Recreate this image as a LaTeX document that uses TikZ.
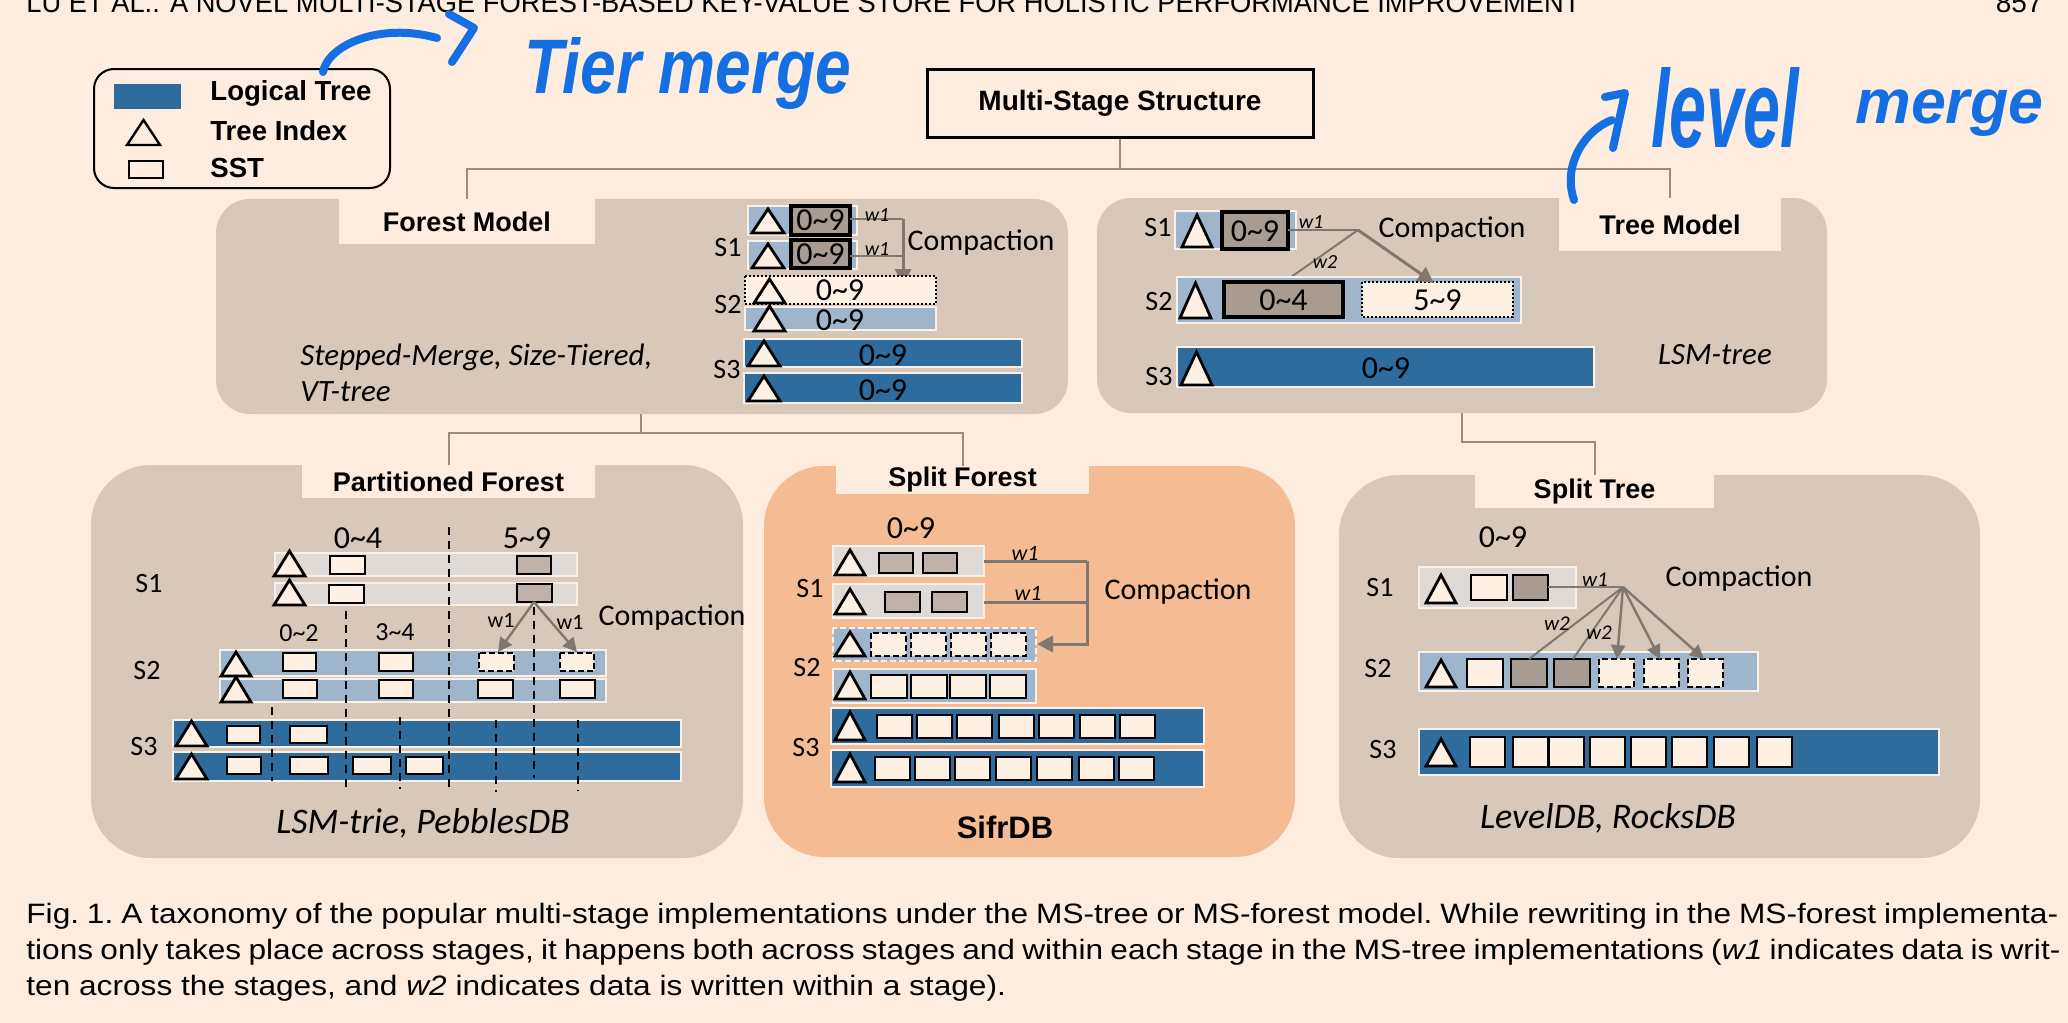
\documentclass[tikz,border=0pt]{standalone}
\usepackage{fontspec}
\usepackage{graphicx}
\setmainfont{Carlito}
\newfontfamily\arialf{Liberation Sans}
\newfontfamily\capf{Liberation Sans}[FakeStretch=1.13]
\usetikzlibrary{arrows.meta}
\definecolor{bg}{RGB}{254,237,223}
\definecolor{panelc}{RGB}{216,200,186}
\definecolor{salmon}{RGB}{245,188,148}
\definecolor{dblue}{RGB}{46,108,158}
\definecolor{lblue}{RGB}{158,181,204}
\definecolor{lgrey}{RGB}{224,218,214}
\definecolor{sstc}{RGB}{255,240,228}
\definecolor{dsstc}{RGB}{168,156,146}
\definecolor{msstc}{RGB}{192,178,168}
\definecolor{edgec}{RGB}{250,240,232}
\definecolor{connc}{RGB}{150,140,132}
\definecolor{arrc}{RGB}{128,120,112}
\definecolor{inkc}{RGB}{20,112,226}
\newcommand\tri[4]{\draw[tris] (#1,#3) -- ({#1+#4},#3) -- ({#1+#4/2},#2) -- cycle;}
\begin{document}
\begin{tikzpicture}[x=0.5pt,y=-0.5pt,
  panel/.style={fill=panelc, rounded corners=17pt},
  bpanel/.style={fill=panelc, rounded corners=30pt},
  tab/.style={fill=bg, inner sep=0, font=\arialf\bfseries\fontsize{13.5}{15}\selectfont},
  bar/.style={draw=edgec, line width=1pt},
  lbb/.style={bar, fill=lblue},
  dbb/.style={bar, fill=dblue},
  lgb/.style={bar, fill=lgrey},
  sst/.style={draw=black, line width=1.4pt, fill=sstc},
  dsst/.style={sst, fill=dsstc},
  msst/.style={sst, fill=msstc},
  nsst/.style={sst, dash pattern=on 3pt off 1.5pt},
  dotb/.style={draw=black, line width=0.8pt, dash pattern=on 1pt off 1pt, fill=sstc},
  tris/.style={draw=black, line width=1.4pt, fill=sstc, line join=miter},
  slab/.style={font=\fontsize{14}{16}\selectfont},
  rng/.style={font=\fontsize{16}{18}\selectfont},
  rngs/.style={font=\fontsize{13}{15}\selectfont},
  cmp/.style={font=\fontsize{15}{17}\selectfont},
  wl/.style={font=\itshape\fontsize{10}{12}\selectfont, inner sep=0},
  wlu/.style={font=\fontsize{11}{13}\selectfont, inner sep=0},
  dbn/.style={font=\itshape\fontsize{18}{20}\selectfont},
  conn/.style={draw=connc, line width=1pt},
  tline/.style={draw=arrc, line width=1pt},
  arr/.style={draw=arrc, line width=1.5pt, -{Triangle[length=8pt,width=8pt]}},
  arrs/.style={draw=arrc, line width=1.2pt, -{Triangle[length=7pt,width=7pt]}},
  dl/.style={draw=black, line width=0.7pt, dash pattern=on 4pt off 3pt},
  ink/.style={draw=inkc, line width=4pt, line cap=round, line join=round},
  capn/.style={anchor=base west, inner sep=0, font=\capf\frenchspacing\fontsize{14}{16}\selectfont},
  leg/.style={anchor=west, inner sep=0, font=\arialf\bfseries\fontsize{13.8}{16}\selectfont}]
\useasboundingbox (0,0) rectangle (2068,1023);
\fill[bg] (0,0) rectangle (2068,1023);

% header
\node[anchor=base west, inner sep=0] (hdr) at (26,12) {\resizebox{777pt}{10pt}{\arialf LU ET AL.: A NOVEL MULTI-STAGE FOREST-BASED KEY-VALUE STORE FOR HOLISTIC PERFORMANCE IMPROVEMENT}};
\node[anchor=base east, inner sep=0, font=\arialf\fontsize{14}{16}\selectfont] (pg) at (2043,12) {857};

% legend
\draw[line width=1pt, rounded corners=10pt] (94,69) rectangle (390,188);
\fill[dblue] (114,84) rectangle (181,109);
\node[leg] (l1) at (210,93) {Logical Tree};
\draw[line width=1.2pt] (127,145) -- (160,145) -- (143.5,120) -- cycle;
\node[leg] (l2) at (210,131) {Tree Index};
\draw[line width=1.2pt] (129,161) rectangle (163,178);
\node[leg] (l3) at (210,168) {SST};

% top box
\node[draw, line width=1.5pt, minimum width=193pt, minimum height=34pt, inner sep=0, font=\arialf\bfseries\fontsize{14}{16}\selectfont] (ms) at (1120,103) {Multi-Stage Structure};

% panels
\fill[panel] (216,199) rectangle (1068,414);
\fill[panel] (1097,198) rectangle (1827,413);
\fill[bpanel] (91,465) rectangle (743,858);
\fill[bpanel, fill=salmon] (764,466) rectangle (1295,857);
\fill[bpanel] (1339,475) rectangle (1980,858);
\node[tab, minimum width=128pt, minimum height=22.5pt] (tabFM) at (467,221.5) {Forest Model};
\node[tab, minimum width=111pt, minimum height=26.5pt] (tabTM) at (1670,224.5) {Tree Model};
\node[tab, minimum width=146.5pt, minimum height=16.5pt] (tabPF) at (448.5,481.5) {Partitioned Forest};
\node[tab, minimum width=126.5pt, minimum height=14pt] (tabSF) at (962.5,480) {Split Forest};
\node[tab, minimum width=119.5pt, minimum height=16.5pt] (tabST) at (1594.5,491.5) {Split Tree};

% hierarchy connectors
\draw[conn] (ms.south) -- ++(0,30) -| (tabFM.north);
\draw[conn] (ms.south) -- ++(0,30) -| (tabTM.north);
\coordinate (fmBot) at (641,414);
\draw[conn] (fmBot) -- ++(0,19) -| (tabPF.north);
\draw[conn] (fmBot) -- ++(0,19) -| (tabSF.north);
\coordinate (tmBot) at (1462,413);
\draw[conn] (tmBot) -- ++(0,29) -| (tabST.north);

% ===== Forest Model =====
\draw[lbb] (748,206) rectangle (857,235);
\tri{752}{209}{233}{32}
\draw[dsst, line width=2pt] (791,206) rectangle (850,235);
\node[rng] (fa1) at (820.5,220.5) {0\textasciitilde9};
\draw[lbb] (748,241) rectangle (857,269);
\tri{752}{244}{268}{32}
\draw[dsst, line width=2pt] (791,240) rectangle (850,268);
\node[rng] (fa2) at (820.5,254) {0\textasciitilde9};
\draw[tline] (850,219) -- (903,219);
\draw[tline] (850,256) -- (903,256);
\draw[arr] (903,219) -- (903,285);
\node[wl] (fw1) at (877,215) {w1};
\node[wl] (fw2) at (877,249) {w1};
\node[cmp] (fc) at (981,243) {Compaction};
\node[slab] (fs1) at (728,248) {S1};
\draw[dotb] (745,276) rectangle (936,304);
\tri{754}{279}{303}{31}
\node[rng] (fa3) at (840,290) {0\textasciitilde9};
\draw[lbb] (745,307) rectangle (936,330);
\tri{754}{306}{331}{31}
\node[rng] (fa4) at (840,320) {0\textasciitilde9};
\node[slab] (fs2) at (728,305) {S2};
\draw[dbb] (744,339) rectangle (1022,367);
\tri{748}{341}{366}{32}
\node[rng] (fa5) at (883,355) {0\textasciitilde9};
\draw[dbb] (744,373) rectangle (1022,403);
\tri{748}{376}{401}{32}
\node[rng] (fa6) at (883,390) {0\textasciitilde9};
\node[slab] (fs3) at (727,370) {S3};
\node[anchor=west, inner sep=0, font=\itshape\fontsize{15.5}{18}\selectfont] (fn1) at (300,357) {Stepped-Merge, Size-Tiered,};
\node[anchor=west, inner sep=0, font=\itshape\fontsize{15.5}{18}\selectfont] (fn2) at (300,392) {VT-tree};

% ===== Tree Model =====
\draw[lbb] (1175,211) rectangle (1296,249);
\tri{1182}{215}{247}{30}
\draw[dsst, line width=2pt] (1222,212) rectangle (1288,249);
\node[rng] (ta1) at (1255,231) {0\textasciitilde9};
\node[slab] (ts1) at (1158,228) {S1};
\coordinate (tmf) at (1358,230);
\draw[tline] (1288,230) -- (tmf);
\draw[tline] (tmf) -- (1284,282);
\draw[lbb] (1177,277) rectangle (1521,323);
\tri{1180}{283}{318}{31}
\draw[dsst, line width=2pt] (1224,282) rectangle (1343,317);
\node[rng] (ta2) at (1283.5,300) {0\textasciitilde4};
\draw[dotb] (1362,282) rectangle (1513,317);
\node[rng] (ta3) at (1437.5,300) {5\textasciitilde9};
\draw[arr] (tmf) -- (1434,283);
\node[wl] (tw1) at (1311,222) {w1};
\node[wl] (tw2) at (1325,262) {w2};
\node[cmp] (tc) at (1452,230) {Compaction};
\node[slab] (ts2) at (1159,302) {S2};
\draw[dbb] (1177,347) rectangle (1594,387);
\tri{1181}{352}{385}{31}
\node[rng] (ta4) at (1386,368) {0\textasciitilde9};
\node[slab] (ts3) at (1159,377) {S3};
\node[font=\itshape\fontsize{15.5}{18}\selectfont] (tn) at (1715,355) {LSM-tree};

% ===== Partitioned Forest =====
\node[rng] (pr1) at (358,538) {0\textasciitilde4};
\node[rng] (pr2) at (527,538) {5\textasciitilde9};
\draw[lgb] (275,553) rectangle (577,576);
\draw[lgb] (275,583) rectangle (577,605);
\draw[lbb] (220,650) rectangle (606,676);
\draw[lbb] (220,679) rectangle (606,702);
\draw[dbb] (173,720) rectangle (681,747);
\draw[dbb] (173,752) rectangle (681,781);
\draw[dl] (449,527) -- (449,792);
\draw[dl] (346,611) -- (346,791);
\draw[dl] (534,607) -- (534,778);
\draw[dl] (272,707) -- (272,781);
\draw[dl] (400,717) -- (400,789);
\draw[dl] (496,720) -- (496,792);
\draw[dl] (578,720) -- (578,791);
\tri{274}{551}{576}{31}
\draw[sst] (330,556) rectangle (365,574);
\draw[msst] (517,556) rectangle (551,574);
\tri{274}{580}{605}{31}
\draw[sst] (329,585) rectangle (364,603);
\draw[msst] (517,584) rectangle (552,602);
\node[slab] (ps1) at (149,584) {S1};
\node[rngs] (pr3) at (299,633) {0\textasciitilde2};
\node[rngs] (pr4) at (395,632) {3\textasciitilde4};
\coordinate (pfs) at (534,602);
\draw[arrs] (pfs) -- (498,652);
\draw[arrs] (pfs) -- (577,652);
\node[wlu] (pw1) at (501,620) {w1};
\node[wlu] (pw2) at (570,622) {w1};
\node[cmp] (pc) at (672,618) {Compaction};
\tri{221}{652}{676}{30}
\draw[sst] (283,653) rectangle (316,671);
\draw[sst] (379,653) rectangle (413,671);
\draw[nsst] (479,653) rectangle (514,671);
\draw[nsst] (560,653) rectangle (594,671);
\tri{221}{677}{702}{30}
\draw[sst] (283,680) rectangle (317,698);
\draw[sst] (379,680) rectangle (413,698);
\draw[sst] (478,680) rectangle (513,698);
\draw[sst] (560,680) rectangle (595,698);
\node[slab] (ps2) at (147,671) {S2};
\tri{176}{721}{746}{31}
\draw[sst] (227,726) rectangle (260,743);
\draw[sst] (290,726) rectangle (327,743);
\tri{176}{754}{779}{31}
\draw[sst] (227,757) rectangle (261,774);
\draw[sst] (290,757) rectangle (328,774);
\draw[sst] (353,757) rectangle (391,774);
\draw[sst] (406,757) rectangle (443,774);
\node[slab] (ps3) at (144,747) {S3};
\node[dbn] (pn) at (423,823) {LSM-trie, PebblesDB};

% ===== Split Forest =====
\node[rng] (sr1) at (911,528) {0\textasciitilde9};
\draw[lgb] (833,546) rectangle (984,576);
\tri{835}{550}{575}{30}
\draw[msst] (879,553) rectangle (913,573);
\draw[msst] (923,553) rectangle (957,573);
\draw[lgb] (833,584) rectangle (984,618);
\tri{835}{589}{614}{30}
\draw[msst] (885,592) rectangle (920,612);
\draw[msst] (932,592) rectangle (967,612);
\node[slab] (ss1) at (810,589) {S1};
\draw[draw=arrc, line width=1.5pt] (984,561) -- (1087,561);
\draw[draw=arrc, line width=1.5pt] (984,602) -- (1087,602);
\draw[arr] (1087,561) -- (1087,644) -- (1037,644);
\node[font=\itshape\fontsize{11}{13}\selectfont, inner sep=0] (sw1) at (1025,553) {w1};
\node[font=\itshape\fontsize{11}{13}\selectfont, inner sep=0] (sw2) at (1028,593) {w1};
\node[cmp] (sc) at (1178,592) {Compaction};
\draw[bar, fill=lblue, dash pattern=on 3pt off 1.5pt] (833,628) rectangle (1036,661);
\tri{835}{632}{656}{30}
\foreach \a in {871,911,951,991} \draw[nsst] (\a,633) rectangle ++(35,23);
\draw[lbb] (833,669) rectangle (1036,703);
\tri{835}{672}{699}{30}
\foreach \a in {871,911,950,990} \draw[sst] (\a,675) rectangle ++(36,23);
\node[slab] (ss2) at (807,668) {S2};
\draw[dbb] (831,708) rectangle (1204,744);
\tri{835}{712}{740}{30}
\foreach \a in {877,917,957,999,1039,1080,1120} \draw[sst] (\a,715) rectangle ++(35,23);
\draw[dbb] (831,750) rectangle (1204,787);
\tri{835}{754}{782}{30}
\foreach \a in {875,915,955,996,1037,1079,1119} \draw[sst] (\a,757) rectangle ++(35,23);
\node[slab] (ss3) at (806,748) {S3};
\node[font=\arialf\bfseries\fontsize{15.5}{18}\selectfont] (sn) at (1005,827) {SifrDB};

% ===== Split Tree =====
\node[rng] (qr1) at (1503,537) {0\textasciitilde9};
\draw[lgb] (1419,567) rectangle (1576,608);
\tri{1426}{575}{603}{30}
\draw[sst] (1471,575) rectangle (1507,600);
\draw[dsst] (1513,575) rectangle (1548,600);
\node[slab] (qs1) at (1380,588) {S1};
\draw[lbb] (1419,652) rectangle (1758,691);
\tri{1426}{660}{687}{30}
\draw[sst] (1467,659) rectangle (1503,687);
\draw[dsst] (1511,659) rectangle (1547,687);
\draw[dsst] (1554,659) rectangle (1590,687);
\draw[nsst] (1599,659) rectangle (1634,687);
\draw[nsst] (1644,659) rectangle (1679,687);
\draw[nsst] (1688,659) rectangle (1723,687);
\node[slab] (qs2) at (1378,669) {S2};
\coordinate (stf) at (1623,587);
\draw[tline] (1548,587) -- (stf);
\draw[tline] (stf) -- (1529,659);
\draw[tline] (stf) -- (1573,659);
\draw[arrs] (stf) -- (1617,659);
\draw[arrs] (stf) -- (1660,659);
\draw[arrs] (stf) -- (1704,659);
\node[font=\itshape\fontsize{10.5}{13}\selectfont, inner sep=0] (qw1) at (1595,580) {w1};
\node[font=\itshape\fontsize{10.5}{13}\selectfont, inner sep=0] (qw2) at (1557,624) {w2};
\node[font=\itshape\fontsize{10.5}{13}\selectfont, inner sep=0] (qw3) at (1599,633) {w2};
\node[cmp] (qc) at (1739,579) {Compaction};
\draw[dbb] (1419,729) rectangle (1939,775);
\tri{1426}{739}{766}{30}
\foreach \a in {1470,1513,1549,1590,1631,1672,1714,1757} \draw[sst] (\a,737) rectangle ++(35,30);
\node[slab] (qs3) at (1383,750) {S3};
\node[dbn] (qn) at (1608,818) {LevelDB, RocksDB};

% caption
\node[capn] (cap1) at (26,923) {\makebox[1016pt][s]{Fig. 1. A taxonomy of the popular multi-stage implementations under the MS-tree or MS-forest model. While rewriting in the MS-forest implementa-}};
\node[capn] (cap2) at (26,959) {\makebox[1017pt][s]{tions only takes place across stages, it happens both across stages and within each stage in the MS-tree implementations (\textit{w1} indicates data is writ-}};
\node[capn] (cap3) at (26,995) {ten across the stages, and \textit{w2} indicates data is written within a stage).};

% handwritten annotations
\draw[ink] (323,72) .. controls (328,45) and (380,22) .. (437,38);
\draw[ink] (449,14) -- (474,28) -- (452,62);
\node[anchor=base west, inner sep=0, text=inkc] (tier) at (524,93) {\resizebox{163.5pt}{28pt}{\arialf\bfseries\itshape Tier merge}};
\draw[ink] (1574,200) .. controls (1562,165) and (1585,130) .. (1612,120);
\draw[ink] (1605,97) -- (1625,93) -- (1613,148);
\node[anchor=base west, inner sep=0, text=inkc] (lvl) at (1651,147) {\resizebox{74pt}{40pt}{\arialf\bfseries\itshape level}};
\node[anchor=base west, inner sep=0, text=inkc] (mrg) at (1855,123) {\resizebox{94pt}{!}{\arialf\bfseries\itshape merge}};
\end{tikzpicture}
\end{document}
